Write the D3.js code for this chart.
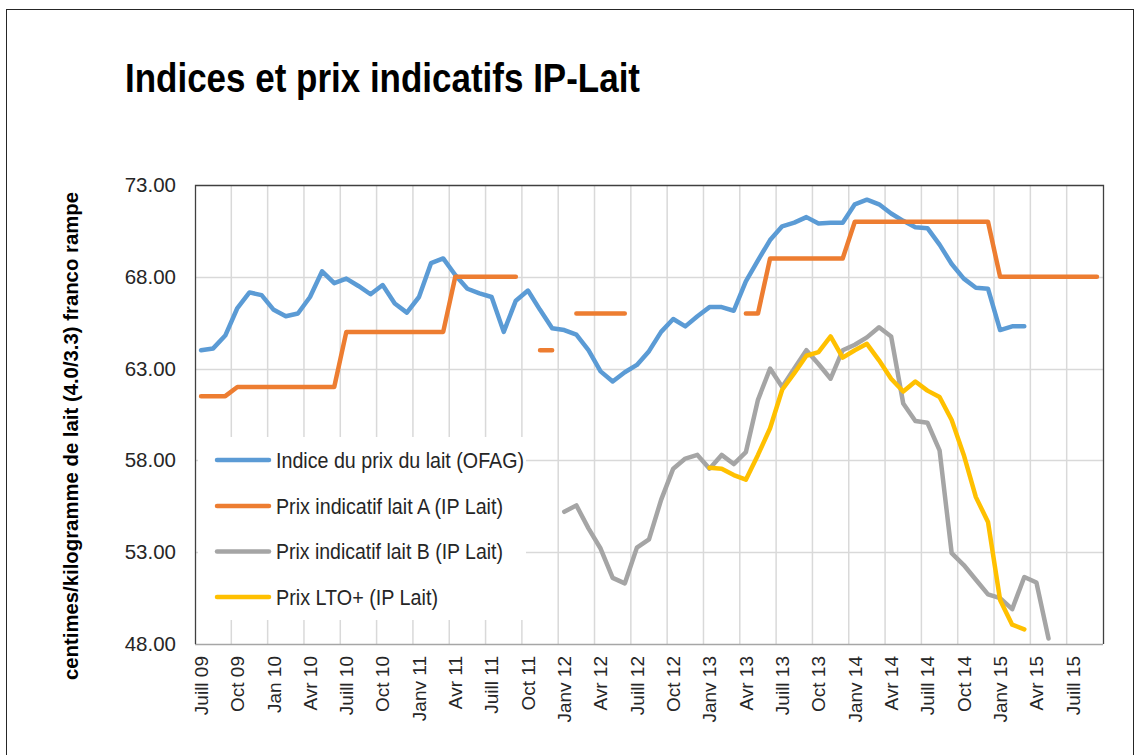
<!DOCTYPE html>
<html><head><meta charset="utf-8">
<script src="https://cdn.jsdelivr.net/npm/d3@7"></script>
<style>body{margin:0;background:#fff;} svg{display:block;}</style>
</head><body>
<svg id="chart" width="1139" height="755"></svg>
<script>
// ---- DATA ----
const firstMonth = new Date(2009, 6, 1);   // Juillet 2009
const lastMonthExclusive = new Date(2015, 9, 1); // through Sept 2015
const tickLabels = ["Juill 09","Oct 09","Jan 10","Avr 10","Juill 10","Oct 10","Janv 11","Avr 11","Juill 11","Oct 11",
  "Janv 12","Avr 12","Juill 12","Oct 12","Janv 13","Avr 13","Juill 13","Oct 13","Janv 14","Avr 14",
  "Juill 14","Oct 14","Janv 15","Avr 15","Juill 15"];
const yTicks = [48, 53, 58, 63, 68, 73];
const seriesNames = ["Indice du prix du lait (OFAG)","Prix indicatif lait A (IP Lait)","Prix indicatif lait B (IP Lait)","Prix LTO+ (IP Lait)"];
const seriesColors = ["#5B9BD5","#ED7D31","#A5A5A5","#FFC000"];

const indiceOFAG = [64.0,64.1,64.8,66.3,67.15,67.0,66.2,65.85,66.0,66.9,
  68.3,67.65,67.9,67.5,67.05,67.55,66.55,66.05,66.9,68.75,
  69.0,68.1,67.35,67.1,66.9,65.0,66.7,67.25,66.2,65.2,
  65.1,64.85,64.0,62.85,62.3,62.8,63.2,63.95,65.0,65.7,
  65.3,65.85,66.35,66.35,66.15,67.75,68.9,70.0,70.75,70.95,
  71.25,70.9,70.95,70.95,71.95,72.2,71.95,71.45,71.05,70.7,
  70.65,69.75,68.7,67.9,67.4,67.35,65.1,65.3,65.3,
  null,null,null,null,null,null];

const prixA = [61.5,61.5,61.5,62,62,62,62,62,62,62,
  62,62,65,65,65,65,65,65,65,65,
  65,68,68,68,68,68,68,null,64,64,
  null,66,66,66,66,66,null,null,null,null,
  null,null,null,null,null,66,66,69,69,69,
  69,69,69,69,71,71,71,71,71,71,
  71,71,71,71,71,71,68,68,68,68,
  68,68,68,68,68];

const prixB = [null,null,null,null,null,null,null,null,null,null,
  null,null,null,null,null,null,null,null,null,null,
  null,null,null,null,null,null,null,null,null,null,
  55.2,55.55,54.3,53.2,51.6,51.3,53.25,53.7,55.85,57.55,
  58.1,58.3,57.55,58.3,57.8,58.45,61.3,63.0,62.0,63.0,
  64.0,63.25,62.45,64.0,64.3,64.7,65.25,64.75,61.1,60.15,
  60.05,58.55,52.95,52.3,51.5,50.7,50.5,49.9,51.65,51.35,
  48.3,null,null,null,null];

const prixLTO = [null,null,null,null,null,null,null,null,null,null,
  null,null,null,null,null,null,null,null,null,null,
  null,null,null,null,null,null,null,null,null,null,
  null,null,null,null,null,null,null,null,null,null,
  null,null,57.6,57.55,57.2,56.95,58.3,59.75,61.85,62.75,
  63.7,63.9,64.75,63.6,64.0,64.35,63.45,62.45,61.75,62.3,
  61.8,61.45,60.2,58.3,56.0,54.65,50.4,49.05,48.8,
  null,null,null,null,null,null];

// ---- CHART ----
const categories = d3.timeMonth.range(firstMonth, lastMonthExclusive).map(d3.timeFormat("%Y-%m"));
const svg = d3.select("#chart");
const L = 195, R = 1103, T = 185, B = 644;

const x = d3.scaleBand().domain(categories).range([L, R]).padding(0);
const bw = x.bandwidth();
const y = d3.scaleLinear().domain([48, 73]).range([B, T]);

// outer frame
svg.append("rect").attr("x", 6.5).attr("y", 9.5).attr("width", 1127).attr("height", 800)
  .attr("fill", "none").attr("stroke", "#262626").attr("stroke-width", 1);

// title
svg.append("text").attr("x", 125).attr("y", 92)
  .attr("font-family", "'Liberation Sans Narrow','Arial Narrow','Liberation Sans',Arial,sans-serif")
  .attr("font-weight", "bold").attr("font-size", 40).attr("fill", "#000")
  .attr("textLength", 515).attr("lengthAdjust", "spacingAndGlyphs")
  .text("Indices et prix indicatifs IP-Lait");

// gridlines
const g = svg.append("g");
g.selectAll("line.h").data(yTicks.filter(v => v > 48 && v < 73)).join("line")
  .attr("x1", L).attr("x2", R).attr("y1", d => Math.round(y(d)) + 0.5).attr("y2", d => Math.round(y(d)) + 0.5)
  .attr("stroke", "#d9d9d9").attr("stroke-width", 1.5);
const vGrid = categories.filter((d, i) => i % 3 === 0 && i > 0);
g.selectAll("line.v").data(vGrid).join("line")
  .attr("x1", d => x(d)).attr("x2", d => x(d)).attr("y1", T).attr("y2", B)
  .attr("stroke", "#d9d9d9").attr("stroke-width", 1.5);

// plot border
svg.append("line").attr("x1", L).attr("x2", R).attr("y1", B + 0.5).attr("y2", B + 0.5).attr("stroke", "#a6a6a6").attr("stroke-width", 1.5);
svg.append("path").attr("d", `M${L + 0.5},${B}V${T + 0.5}H${R + 0.5}V${B}`)
  .attr("fill", "none").attr("stroke", "#404040").attr("stroke-width", 1.3);

// y axis labels
const yAxis = d3.axisLeft(y).tickValues(yTicks).tickFormat(d3.format(".2f")).tickSize(0).tickPadding(19);
const ya = svg.append("g").attr("transform", `translate(${L},0)`).call(yAxis);
ya.select(".domain").remove();
ya.selectAll("text").attr("font-family", "'Liberation Sans',Arial,sans-serif").attr("font-size", 20.5).attr("fill", "#262626");

// x axis labels
const tickCats = categories.filter((d, i) => i % 3 === 0);
const xAxis = d3.axisBottom(x).tickValues(tickCats).tickFormat((d, i) => tickLabels[i]).tickSize(0);
const xa = svg.append("g").attr("transform", `translate(0,${B})`).call(xAxis);
xa.select(".domain").remove();
xa.selectAll("text")
  .attr("transform", "rotate(-90)").attr("x", -12).attr("y", 0).attr("dy", "0.36em")
  .style("text-anchor", "end")
  .attr("font-family", "'Liberation Sans',Arial,sans-serif").attr("font-size", 19).attr("fill", "#262626");

// y axis title
svg.append("text")
  .attr("transform", `translate(78,436) rotate(-90)`)
  .attr("text-anchor", "middle")
  .attr("font-family", "'Liberation Sans',Arial,sans-serif").attr("font-weight", "bold").attr("font-size", 20.5).attr("fill", "#000")
  .attr("textLength", 488).attr("lengthAdjust", "spacingAndGlyphs")
  .text("centimes/kilogramme de lait (4.0/3.3) franco rampe");

// series lines
const allSeries = [indiceOFAG, prixA, prixB, prixLTO];
const line = d3.line().defined(d => d != null)
  .x((d, i) => x(categories[i]) + bw / 2).y(d => y(d));
svg.append("g").selectAll("path").data(allSeries).join("path")
  .attr("d", d => line(d))
  .attr("fill", "none").attr("stroke", (d, i) => seriesColors[i])
  .attr("stroke-width", 4.5).attr("stroke-linejoin", "round").attr("stroke-linecap", "round");

// legend
const legendWidths = [248, 227, 227, 162];
const lg = svg.append("g");
lg.append("rect").attr("x", 198).attr("y", 437).attr("width", 328).attr("height", 183).attr("fill", "#fff");
const legendY = [460, 506, 551.5, 597];
const items = lg.selectAll("g.item").data(seriesNames).join("g").attr("transform", (d, i) => `translate(0,${legendY[i]})`);
items.append("line").attr("x1", 217).attr("x2", 269).attr("y1", 0).attr("y2", 0)
  .attr("stroke", (d, i) => seriesColors[i]).attr("stroke-width", 4.5).attr("stroke-linecap", "round");
items.append("text").attr("x", 276).attr("y", 0).attr("dy", "0.36em")
  .attr("font-family", "'Liberation Sans',Arial,sans-serif").attr("font-size", 21.5).attr("fill", "#262626")
  .attr("textLength", (d, i) => legendWidths[i]).attr("lengthAdjust", "spacingAndGlyphs")
  .text(d => d);
</script>
</body></html>
